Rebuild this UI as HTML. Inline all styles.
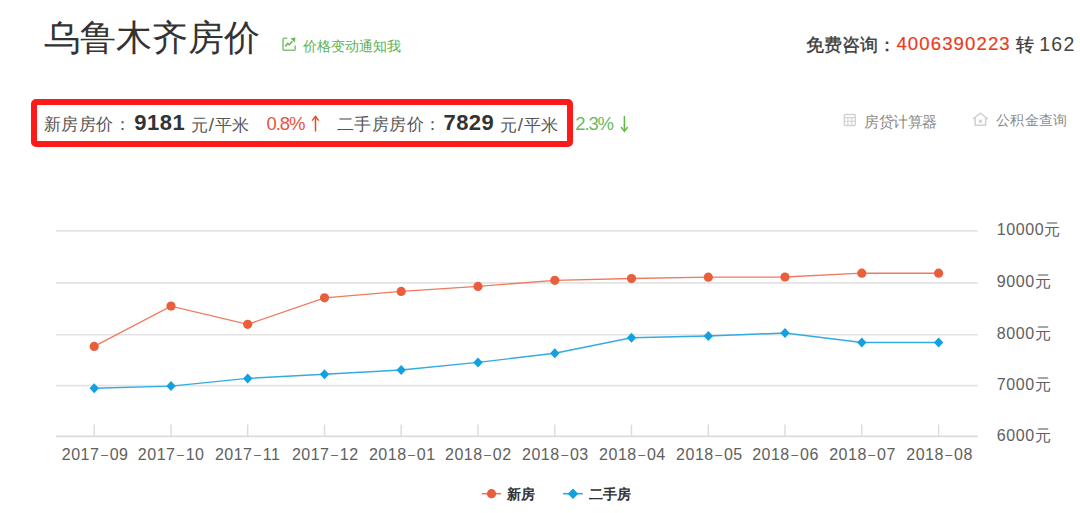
<!DOCTYPE html>
<html><head><meta charset="utf-8">
<style>
html,body{margin:0;padding:0;background:#fff;}
body{width:1080px;height:513px;position:relative;overflow:hidden;font-family:"Liberation Sans",sans-serif;color:#333;}
.a{position:absolute;white-space:nowrap;line-height:1;}
svg{position:absolute;left:0;top:0;}
</style></head><body>
<svg style="left:282px;top:37px" width="14" height="14" viewBox="0 0 14 14">
<path d="M5.3 1.2H2.3a1.3 1.3 0 0 0-1.3 1.3V12a1.3 1.3 0 0 0 1.3 1.3H11.9a1.3 1.3 0 0 0 1.3-1.3V8.4" fill="none" stroke="#82c676" stroke-width="1.6"/>
<path d="M3.2 9.4L5.6 6.5L7.2 7.7L10.4 4.1" fill="none" stroke="#6dbd60" stroke-width="1.7"/>
<path d="M8.6 1.3L13.4 0.6L12.9 5.5Z" fill="#62b854"/>
</svg>
<div class="a" id="box" style="left:31px;top:99.3px;width:529.8px;height:35.7px;border:6px solid #ff1a1a;border-radius:5px;"></div>
<svg style="left:308px;top:114px" width="16" height="20" viewBox="0 0 16 20">
<path d="M7.5 2.6V17.5" stroke="#e8481f" stroke-width="1.5" fill="none"/>
<path d="M4.2 6.6L7.5 2.3L10.8 6.6" stroke="#e8481f" stroke-width="1.4" fill="none"/>
</svg>
<svg style="left:617px;top:114px" width="16" height="20" viewBox="0 0 16 20">
<path d="M7.4 2.1V17" stroke="#5fba45" stroke-width="1.5" fill="none"/>
<path d="M4.1 13L7.4 17.3L10.7 13" stroke="#5fba45" stroke-width="1.4" fill="none"/>
</svg>
<svg style="left:843px;top:113px" width="14" height="14" viewBox="0 0 14 14">
<rect x="1.3" y="1.5" width="11" height="11" rx="1.2" fill="none" stroke="#d2d2d2" stroke-width="1.4"/>
<path d="M1.3 4.6H12.3M1.3 8.3H12.3M4.9 4.6V12.5M8.7 4.6V12.5" stroke="#d2d2d2" stroke-width="1.1"/>
</svg>
<svg style="left:972px;top:112px" width="17" height="15" viewBox="0 0 17 15">
<path d="M0.9 7L8.3 1.2L15.8 7M3.2 5.6V13.2H13.6V5.6" fill="none" stroke="#d0d0d0" stroke-width="1.5"/>
<path d="M6.6 6.9L10.2 11.4M10.2 6.9L6.6 11.4" stroke="#dadada" stroke-width="0.8"/>
<circle cx="8.4" cy="9.3" r="1.5" fill="#cfcfcf"/>
</svg>
<svg width="1080" height="513" viewBox="0 0 1080 513">
<line x1="56" y1="230.9" x2="977.8" y2="230.9" stroke="#e3e3e3" stroke-width="1.6"/>
<line x1="56" y1="282.9" x2="977.8" y2="282.9" stroke="#e3e3e3" stroke-width="1.6"/>
<line x1="56" y1="334.8" x2="977.8" y2="334.8" stroke="#e3e3e3" stroke-width="1.6"/>
<line x1="56" y1="385.6" x2="977.8" y2="385.6" stroke="#e3e3e3" stroke-width="1.6"/>
<line x1="56" y1="436.4" x2="977.8" y2="436.4" stroke="#dcdcdc" stroke-width="1.6"/>
<line x1="94.2" y1="424.6" x2="94.2" y2="436.4" stroke="#dcdcdc" stroke-width="1.4"/>
<line x1="171.0" y1="424.6" x2="171.0" y2="436.4" stroke="#dcdcdc" stroke-width="1.4"/>
<line x1="247.7" y1="424.6" x2="247.7" y2="436.4" stroke="#dcdcdc" stroke-width="1.4"/>
<line x1="324.5" y1="424.6" x2="324.5" y2="436.4" stroke="#dcdcdc" stroke-width="1.4"/>
<line x1="401.2" y1="424.6" x2="401.2" y2="436.4" stroke="#dcdcdc" stroke-width="1.4"/>
<line x1="478.0" y1="424.6" x2="478.0" y2="436.4" stroke="#dcdcdc" stroke-width="1.4"/>
<line x1="554.8" y1="424.6" x2="554.8" y2="436.4" stroke="#dcdcdc" stroke-width="1.4"/>
<line x1="631.5" y1="424.6" x2="631.5" y2="436.4" stroke="#dcdcdc" stroke-width="1.4"/>
<line x1="708.3" y1="424.6" x2="708.3" y2="436.4" stroke="#dcdcdc" stroke-width="1.4"/>
<line x1="785.0" y1="424.6" x2="785.0" y2="436.4" stroke="#dcdcdc" stroke-width="1.4"/>
<line x1="861.8" y1="424.6" x2="861.8" y2="436.4" stroke="#dcdcdc" stroke-width="1.4"/>
<line x1="938.6" y1="424.6" x2="938.6" y2="436.4" stroke="#dcdcdc" stroke-width="1.4"/>
<polyline points="94.2,346.4 171.0,306.1 247.7,324.3 324.5,297.8 401.2,291.4 478.0,286.4 554.8,280.3 631.5,278.5 708.3,277.2 785.0,277.0 861.8,273.2 938.6,273.2" fill="none" stroke="#f07a5d" stroke-width="1.35"/>
<polyline points="94.2,388.3 171.0,386.1 247.7,378.4 324.5,374.3 401.2,370.0 478.0,362.4 554.8,353.3 631.5,337.8 708.3,336.0 785.0,333.0 861.8,342.4 938.6,342.4" fill="none" stroke="#34aae3" stroke-width="1.45"/>
<circle cx="94.2" cy="346.4" r="4.6" fill="#e95f3c"/>
<circle cx="171.0" cy="306.1" r="4.6" fill="#e95f3c"/>
<circle cx="247.7" cy="324.3" r="4.6" fill="#e95f3c"/>
<circle cx="324.5" cy="297.8" r="4.6" fill="#e95f3c"/>
<circle cx="401.2" cy="291.4" r="4.6" fill="#e95f3c"/>
<circle cx="478.0" cy="286.4" r="4.6" fill="#e95f3c"/>
<circle cx="554.8" cy="280.3" r="4.6" fill="#e95f3c"/>
<circle cx="631.5" cy="278.5" r="4.6" fill="#e95f3c"/>
<circle cx="708.3" cy="277.2" r="4.6" fill="#e95f3c"/>
<circle cx="785.0" cy="277.0" r="4.6" fill="#e95f3c"/>
<circle cx="861.8" cy="273.2" r="4.6" fill="#e95f3c"/>
<circle cx="938.6" cy="273.2" r="4.6" fill="#e95f3c"/>
<path d="M94.2 383.3L98.9 388.3L94.2 393.3L89.5 388.3Z" fill="#12a0e0"/>
<path d="M171.0 381.1L175.7 386.1L171.0 391.1L166.3 386.1Z" fill="#12a0e0"/>
<path d="M247.7 373.4L252.4 378.4L247.7 383.4L243.0 378.4Z" fill="#12a0e0"/>
<path d="M324.5 369.3L329.2 374.3L324.5 379.3L319.8 374.3Z" fill="#12a0e0"/>
<path d="M401.2 365.0L405.9 370.0L401.2 375.0L396.5 370.0Z" fill="#12a0e0"/>
<path d="M478.0 357.4L482.7 362.4L478.0 367.4L473.3 362.4Z" fill="#12a0e0"/>
<path d="M554.8 348.3L559.5 353.3L554.8 358.3L550.1 353.3Z" fill="#12a0e0"/>
<path d="M631.5 332.8L636.2 337.8L631.5 342.8L626.8 337.8Z" fill="#12a0e0"/>
<path d="M708.3 331.0L713.0 336.0L708.3 341.0L703.6 336.0Z" fill="#12a0e0"/>
<path d="M785.0 328.0L789.7 333.0L785.0 338.0L780.3 333.0Z" fill="#12a0e0"/>
<path d="M861.8 337.4L866.5 342.4L861.8 347.4L857.1 342.4Z" fill="#12a0e0"/>
<path d="M938.6 337.4L943.3 342.4L938.6 347.4L933.9 342.4Z" fill="#12a0e0"/>
<line x1="481.9" y1="493.7" x2="501.1" y2="493.7" stroke="#ee7557" stroke-width="1.6"/>
<circle cx="491.5" cy="493.7" r="4.6" fill="#e95f3c"/>
<line x1="563.1" y1="493.7" x2="582.8" y2="493.7" stroke="#2aa8e2" stroke-width="1.6"/>
<path d="M573 488.5L578.2 493.7L573 498.9L567.8 493.7Z" fill="#12a0e0"/>
</svg>
<div class="a" id="title" style="left:44.40px;top:20.40px;font-size:36px;color:#333">乌鲁木齐房价</div>
<div class="a" id="notify" style="left:303.20px;top:38.80px;font-size:14.4px;color:#5cb253">价格变动通知我</div>
<div class="a" id="hot1" style="left:806.40px;top:36.20px;font-size:18px;color:#3a3a3a;-webkit-text-stroke:0.35px #3a3a3a">免费咨询：</div>
<div class="a" id="hot2" style="left:896.40px;top:35.20px;font-size:18.6px;color:#e83c1c;letter-spacing:1.1px;-webkit-text-stroke:0.2px #e83c1c">4006390223</div>
<div class="a" id="hot3" style="left:1015.60px;top:35.60px;font-size:18px;color:#3a3a3a;-webkit-text-stroke:0.35px #3a3a3a">转</div>
<div class="a" id="hot4" style="left:1039.20px;top:35.00px;font-size:19.5px;color:#444;letter-spacing:1.3px">162</div>
<div class="a" id="p1" style="left:44.40px;top:115.40px;font-size:18px;transform:scale(0.972);transform-origin:0 0;color:#555">新房房价：</div>
<div class="a" id="p2" style="left:134.20px;top:112.00px;font-size:22px;font-weight:bold;color:#333;letter-spacing:0.5px">9181</div>
<div class="a" id="p3" style="left:191.40px;top:114.60px;font-size:18px;transform:scale(0.972);transform-origin:0 0;color:#555">元<span style="font-size:19.5px;margin:0 0.6px 0 0.2px">/</span>平米</div>
<div class="a" id="p4" style="left:266.60px;top:115.40px;font-size:18.5px;letter-spacing:-1.1px;color:#e8553a">0.8%</div>
<div class="a" id="p6" style="left:336.80px;top:115.40px;font-size:18px;transform:scale(0.972);transform-origin:0 0;color:#555">二手房房价：</div>
<div class="a" id="p7" style="left:443.40px;top:112.00px;font-size:22px;font-weight:bold;color:#333;letter-spacing:0.5px">7829</div>
<div class="a" id="p8" style="left:500.00px;top:114.60px;font-size:18px;transform:scale(0.972);transform-origin:0 0;color:#555">元<span style="font-size:19.5px;margin:0 0.6px 0 0.2px">/</span>平米</div>
<div class="a" id="p9" style="left:575.20px;top:115.40px;font-size:18.5px;letter-spacing:-1.1px;color:#6cbb5f">2.3%</div>
<div class="a" id="calc" style="left:863.80px;top:113.60px;font-size:15px;transform:scale(0.973);transform-origin:0 0;color:#8a8a8a">房贷计算器</div>
<div class="a" id="fund" style="left:995.80px;top:112.60px;font-size:15px;transform:scale(0.955);transform-origin:0 0;color:#8a8a8a">公积金查询</div>
<div class="a" id="xl0" style="left:61.80px;top:447.20px;font-size:16px;color:#606060;letter-spacing:0.5px">2017<span style="font-size:12.5px;margin:0 1.3px 0 1.5px;vertical-align:1px">–</span>09</div>
<div class="a" id="xl1" style="left:137.84px;top:447.20px;font-size:16px;color:#606060;letter-spacing:0.5px">2017<span style="font-size:12.5px;margin:0 1.3px 0 1.5px;vertical-align:1px">–</span>10</div>
<div class="a" id="xl2" style="left:214.88px;top:447.20px;font-size:16px;color:#606060;letter-spacing:0.5px">2017<span style="font-size:12.5px;margin:0 1.3px 0 1.5px;vertical-align:1px">–</span>11</div>
<div class="a" id="xl3" style="left:291.92px;top:447.20px;font-size:16px;color:#606060;letter-spacing:0.5px">2017<span style="font-size:12.5px;margin:0 1.3px 0 1.5px;vertical-align:1px">–</span>12</div>
<div class="a" id="xl4" style="left:368.96px;top:447.20px;font-size:16px;color:#606060;letter-spacing:0.5px">2018<span style="font-size:12.5px;margin:0 1.3px 0 1.5px;vertical-align:1px">–</span>01</div>
<div class="a" id="xl5" style="left:445.00px;top:447.20px;font-size:16px;color:#606060;letter-spacing:0.5px">2018<span style="font-size:12.5px;margin:0 1.3px 0 1.5px;vertical-align:1px">–</span>02</div>
<div class="a" id="xl6" style="left:522.04px;top:447.20px;font-size:16px;color:#606060;letter-spacing:0.5px">2018<span style="font-size:12.5px;margin:0 1.3px 0 1.5px;vertical-align:1px">–</span>03</div>
<div class="a" id="xl7" style="left:599.08px;top:447.20px;font-size:16px;color:#606060;letter-spacing:0.5px">2018<span style="font-size:12.5px;margin:0 1.3px 0 1.5px;vertical-align:1px">–</span>04</div>
<div class="a" id="xl8" style="left:676.12px;top:447.20px;font-size:16px;color:#606060;letter-spacing:0.5px">2018<span style="font-size:12.5px;margin:0 1.3px 0 1.5px;vertical-align:1px">–</span>05</div>
<div class="a" id="xl9" style="left:752.16px;top:447.20px;font-size:16px;color:#606060;letter-spacing:0.5px">2018<span style="font-size:12.5px;margin:0 1.3px 0 1.5px;vertical-align:1px">–</span>06</div>
<div class="a" id="xl10" style="left:829.20px;top:447.20px;font-size:16px;color:#606060;letter-spacing:0.5px">2018<span style="font-size:12.5px;margin:0 1.3px 0 1.5px;vertical-align:1px">–</span>07</div>
<div class="a" id="xl11" style="left:906.24px;top:447.20px;font-size:16px;color:#606060;letter-spacing:0.5px">2018<span style="font-size:12.5px;margin:0 1.3px 0 1.5px;vertical-align:1px">–</span>08</div>
<div class="a" id="yl0" style="left:996.80px;top:222.20px;font-size:16px;color:#606060;letter-spacing:0.6px">10000元</div>
<div class="a" id="yl1" style="left:996.80px;top:274.20px;font-size:16px;color:#606060;letter-spacing:0.6px">9000元</div>
<div class="a" id="yl2" style="left:996.80px;top:325.80px;font-size:16px;color:#606060;letter-spacing:0.6px">8000元</div>
<div class="a" id="yl3" style="left:996.80px;top:377.00px;font-size:16px;color:#606060;letter-spacing:0.6px">7000元</div>
<div class="a" id="yl4" style="left:996.80px;top:428.20px;font-size:16px;color:#606060;letter-spacing:0.6px">6000元</div>
<div class="a" id="lg1" style="left:506.80px;top:487.40px;font-size:14.4px;font-weight:bold;color:#333">新房</div>
<div class="a" id="lg2" style="left:589.00px;top:487.40px;font-size:14.4px;font-weight:bold;color:#333">二手房</div>
</body></html>
